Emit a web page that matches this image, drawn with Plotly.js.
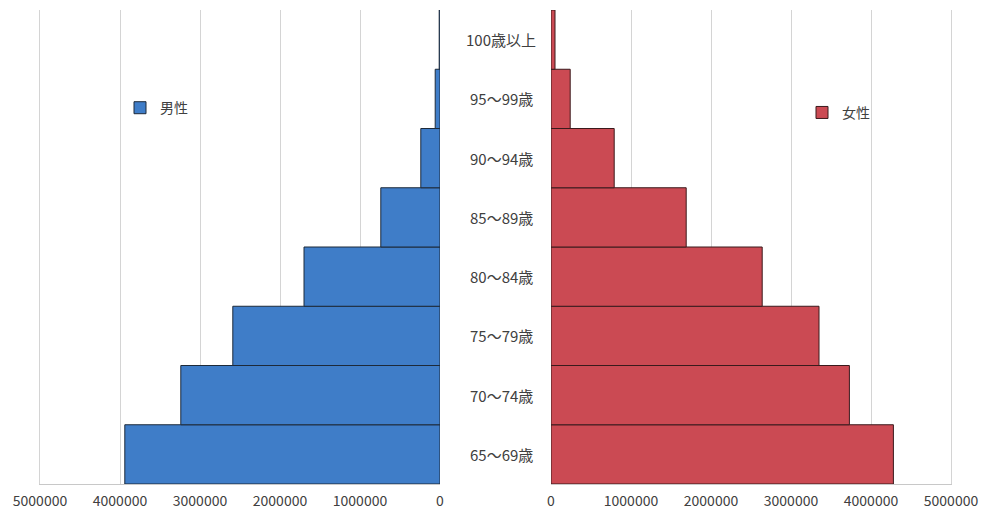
<!DOCTYPE html>
<html><head><meta charset="utf-8">
<script src="https://cdn.plot.ly/plotly-3.0.1.min.js"></script>
<style>html,body{margin:0;padding:0;background:#fff}#chart{width:986px;height:518px}</style>
</head><body><div id="chart"></div>
<script>
const categories = ["65～69歳","70～74歳","75～79歳","80～84歳","85～89歳","90～94歳","95～99歳","100歳以上"];
const male = [3940000, 3240000, 2590000, 1700000, 740000, 240000, 60000, 10000];
const female = [4280000, 3730000, 3350000, 2640000, 1690000, 790000, 240000, 50000];
const tickVals = [0, 1000000, 2000000, 3000000, 4000000, 5000000];
const tickText = ["0","1000000","2000000","3000000","4000000","5000000"];

const fontFam = '"Noto Sans CJK JP", "Noto Sans", sans-serif';
const traces = [
  {type:'bar', orientation:'h', name:'男性', x: male, y: categories, xaxis:'x', yaxis:'y',
   marker:{color:'#3f7dc8', line:{color:'#1d2a3a', width:1}}, legend:'legend'},
  {type:'bar', orientation:'h', name:'女性', x: female, y: categories, xaxis:'x2', yaxis:'y2',
   marker:{color:'#cb4a53', line:{color:'#3a1a1c', width:1}}, legend:'legend2'}
];
const xcommon = {tickvals: tickVals, ticktext: tickText, showgrid:true, gridcolor:'#d4d4d4', gridwidth:1,
  zeroline:false, showline:true, linecolor:'#c8c8c8', ticks:'outside', ticklen:4, tickcolor:'rgba(0,0,0,0)',
  tickfont:{size:14, color:'#404040', family:fontFam}, fixedrange:true};
const layout = {
  width:986, height:518, margin:{l:0, r:0, t:10, b:34},
  paper_bgcolor:'#fff', plot_bgcolor:'#fff', bargap:0, showlegend:true,
  font:{family:fontFam, color:'#404040'},
  xaxis: Object.assign({}, xcommon, {domain:[40/986, 440/986], range:[5000000, 0], anchor:'y'}),
  xaxis2: Object.assign({}, xcommon, {domain:[551/986, 951/986], range:[0, 5000000], anchor:'y2'}),
  yaxis: {domain:[0,1], showticklabels:false, showgrid:false, zeroline:false, showline:true, linecolor:'#d4d4d4', side:'left', anchor:'x', type:'category', range:[-0.5, 7.5]},
  yaxis2: {domain:[0,1], showticklabels:false, showgrid:false, zeroline:false, showline:true, linecolor:'#d4d4d4', side:'right', anchor:'x2', type:'category', range:[-0.5, 7.5]},
  legend: {x:120/986, y:0.793, xanchor:'left', yanchor:'middle', bgcolor:'rgba(0,0,0,0)', font:{size:14, color:'#404040'}, itemwidth:30},
  legend2: {x:802/986, y:0.783, xanchor:'left', yanchor:'middle', bgcolor:'rgba(0,0,0,0)', font:{size:14, color:'#404040'}, itemwidth:30},
  annotations: categories.map((c,i)=>({text:c, xref:'paper', x:501/986, yref:'y', y:c, showarrow:false,
     font:{size:15, color:'#404040', family:fontFam}, xanchor:'center', yanchor:'middle'}))
};
Plotly.newPlot('chart', traces, layout, {displayModeBar:false, staticPlot:true});
</script></body></html>
